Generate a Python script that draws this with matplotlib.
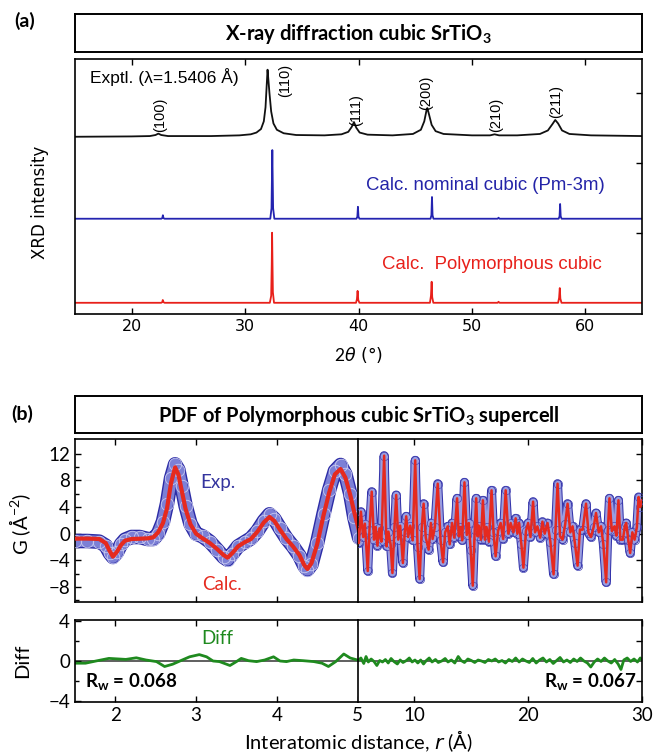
import matplotlib
matplotlib.use('Agg')
import matplotlib.pyplot as plt
import matplotlib.patheffects as pe
from matplotlib.ticker import FixedLocator

plt.rcParams['font.family'] = ['Lato', 'DejaVu Sans']
plt.rcParams['mathtext.fontset'] = 'custom'
plt.rcParams['mathtext.rm'] = 'Lato'
plt.rcParams['mathtext.bf'] = 'Lato:bold'
plt.rcParams['mathtext.it'] = 'DejaVu Sans:italic'

# ---------------- (a) XRD data ----------------
# experimental pattern, intensity above its own baseline
exp_tth = [15.0, 20.0, 21.6, 22.1, 22.35, 22.6, 23.2, 27.0, 29.5, 30.5, 31.0, 31.4,
           31.65, 31.8, 31.9, 31.98, 32.06, 32.15, 32.3, 32.5, 32.8, 33.4, 34.5,
           37.0, 38.5, 39.1, 39.4, 39.6, 39.8, 40.1, 40.8, 43.0, 44.8, 45.5, 45.8,
           46.0, 46.07, 46.2, 46.45, 46.8, 47.5, 50.0, 51.6, 52.0, 52.4, 54.0,
           56.0, 56.7, 57.1, 57.35, 57.6, 57.95, 58.6, 60.5, 65.0]
exp_int = [0.00, 0.005, 0.01, 0.025, 0.045, 0.025, 0.01, 0.01, 0.02, 0.035, 0.06, 0.11,
           0.22, 0.42, 0.72, 0.957, 0.80, 0.62, 0.36, 0.19, 0.10, 0.05, 0.025,
           0.02, 0.035, 0.07, 0.14, 0.21, 0.13, 0.06, 0.03, 0.02, 0.04, 0.10, 0.22,
           0.38, 0.41, 0.33, 0.17, 0.08, 0.04, 0.02, 0.02, 0.035, 0.02, 0.02,
           0.04, 0.09, 0.18, 0.24, 0.19, 0.09, 0.04, 0.02, 0.01]

nom_tth = [15.0, 22.62, 22.7, 22.75, 22.8, 22.88, 32.22, 32.33, 32.4, 32.47, 32.58,
           39.82, 39.9, 39.95, 40.0, 40.08, 46.35, 46.43, 46.48, 46.53, 46.61,
           52.27, 52.35, 52.43, 57.65, 57.73, 57.78, 57.83, 57.91, 65.0]
nom_int = [0, 0, 0.012, 0.05, 0.012, 0, 0, 0.15, 0.98, 0.15, 0,
           0, 0.03, 0.17, 0.03, 0, 0, 0.05, 0.31, 0.05, 0,
           0, 0.015, 0, 0, 0.035, 0.21, 0.035, 0, 0]

poly_tth = [15.0, 22.6, 22.7, 22.74, 22.8, 22.9, 32.18, 32.3, 32.35, 32.38, 32.42, 32.45,
            32.55, 39.78, 39.86, 39.92, 39.98, 40.08, 46.3, 46.39, 46.45, 46.5, 46.6,
            52.27, 52.35, 52.43, 57.6, 57.69, 57.75, 57.8, 57.9, 65.0]
poly_int = [0, 0, 0.01, 0.04, 0.01, 0, 0, 0.1, 0.55, 1.0, 0.5, 0.15,
            0, 0, 0.05, 0.17, 0.04, 0, 0, 0.1, 0.30, 0.08, 0,
            0, 0.015, 0, 0, 0.07, 0.21, 0.06, 0, 0]

hkl_labels = ['(100)', '(110)', '(111)', '(200)', '(210)', '(211)']
hkl_x = [22.5, 33.5, 39.8, 46.0, 52.1, 57.4]
hkl_y = [2.68, 3.17, 2.75, 3.00, 2.68, 2.88]

# ---------------- (b) PDF data ----------------
r_left = [1.50, 1.65, 1.80, 1.88, 1.93, 1.97, 2.02, 2.07, 2.12, 2.20, 2.30, 2.40,
          2.47, 2.53, 2.59, 2.64, 2.69, 2.74, 2.78, 2.82, 2.87, 2.93, 3.00, 3.08,
          3.17, 3.26, 3.34, 3.39, 3.45, 3.52, 3.60, 3.68, 3.76, 3.84, 3.91, 3.97,
          4.04, 4.12, 4.20, 4.28, 4.34, 4.38, 4.43, 4.50, 4.58, 4.65, 4.72, 4.79,
          4.85, 4.91, 4.96, 5.02]
g_calc_left = [-0.74, -0.74, -0.80, -1.40, -2.60, -3.45, -2.70, -1.70, -1.05, -0.80,
               -0.76, -0.70, -0.55, 0.20, 1.60, 3.80, 7.60, 9.95, 8.90, 6.60, 3.70,
               1.40, 0.00, -0.70, -1.40, -2.30, -3.20, -3.60, -2.90, -1.90, -1.30,
               -0.80, 0.30, 1.70, 2.50, 1.90, 0.60, -0.80, -1.90, -3.20, -4.70,
               -5.30, -4.40, -1.60, 2.80, 6.20, 8.90, 9.70, 8.40, 5.80, 3.20, 0.40]
g_exp_left = [-1.1, -1.1, -1.2, -1.8, -2.9, -3.5, -2.8, -1.6, -0.9, -0.5,
              -0.5, -0.8, -0.8, 0.0, 1.8, 4.5, 8.3, 10.4, 9.6, 7.2, 4.2,
              1.5, 0.0, -0.4, -1.2, -2.4, -3.5, -3.9, -3.0, -1.9, -1.3,
              -0.7, 0.4, 1.9, 2.9, 2.2, 0.8, -0.7, -1.9, -3.3, -4.8,
              -5.4, -4.6, -1.4, 3.0, 6.6, 9.4, 10.3, 8.9, 6.0, 2.5, -0.6]

r_right = [5.0, 5.12, 5.3, 5.5, 5.65, 5.9, 6.05, 6.25, 6.45, 6.6, 6.75, 6.93, 7.1,
           7.34, 7.55, 7.72, 7.9, 8.07, 8.25, 8.4, 8.58, 8.75, 8.99, 9.15, 9.28,
           9.45, 9.63, 9.85, 10.07, 10.28, 10.46, 10.65, 10.81, 11.0, 11.25, 11.45,
           11.6, 11.8, 12.05, 12.3, 12.52, 12.7, 12.93, 13.1, 13.31, 13.5, 13.75,
           13.9, 14.05, 14.2, 14.4, 14.6, 14.78, 14.95, 15.13, 15.3, 15.43, 15.55,
           15.66, 15.85, 16.02, 16.2, 16.34, 16.55, 16.78, 16.95, 17.14, 17.35,
           17.58, 17.8, 18.02, 18.25, 18.46, 18.7, 18.9, 19.05, 19.2, 19.4, 19.58,
           19.8, 19.99, 20.2, 20.43, 20.6, 20.81, 21.05, 21.25, 21.45, 21.7, 21.95,
           22.23, 22.4, 22.58, 22.8, 23.02, 23.25, 23.46, 23.7, 23.9, 24.1, 24.34,
           24.55, 24.79, 25.08, 25.3, 25.52, 25.75, 25.96, 26.2, 26.4, 26.6, 26.85,
           27.0, 27.14, 27.35, 27.58, 27.75, 27.93, 28.1, 28.32, 28.5, 28.61, 28.8,
           28.96, 29.15, 29.35, 29.55, 29.7, 29.85, 30.0]
g_right = [0.6, -1.4, 3.3, -0.5, 1.5, -5.6, 0.5, 6.3, -0.9, 1.0, -1.8, 0.8, -1.2,
           11.7, -1.9, 0.3, -1.5, -5.9, 1.0, 5.8, -0.9, 1.2, -4.4, 0.2, 2.6,
           -0.5, 1.2, -1.0, 11.0, -2.0, -6.8, 1.0, 4.5, -0.6, -2.4, 1.6,
           -0.8, 1.0, 7.5, -1.0, -4.3, 0.2, 1.1, -1.6, 1.6, -0.6, 5.3,
           -0.4, 1.0, -1.0, 7.7, -0.2, 1.6, -2.5, -7.8, 0.5, 5.3, -0.4,
           1.2, -0.9, 5.0, -0.9, 1.0, -1.2, 6.5, 0.2, -3.4, 0.4,
           1.6, -0.8, 6.5, 0.0, 1.6, 0.2, 2.3, 0.0, 1.6, -1.6, -5.1,
           0.4, 1.6, -0.5, 4.8, 0.2, 1.1, -0.6, 1.8, 0.0, 1.6, -1.2,
           -6.1, 0.5, 7.5, -0.4, -0.9, 1.4, 4.5, 0.2, 1.1, -1.4, -4.8,
           0.6, 0.6, 4.5, 0.1, -0.5, 1.0, 3.1, 0.2, 1.1, -1.5, -7.3,
           0.5, 5.3, 0.4, 1.1, -0.3, 5.0, -0.9, -0.9, 1.2, 1.6, -1.0,
           -2.9, 0.2, -0.9, 1.0, 5.5, 4.0, 5.0]

r_diff_left = [1.51, 1.63, 1.76, 1.92, 2.13, 2.26, 2.38, 2.51, 2.61, 2.71, 2.80, 2.92,
               3.04, 3.13, 3.21, 3.29, 3.42, 3.50, 3.56, 3.65, 3.75, 3.85, 3.96, 4.04,
               4.12, 4.21, 4.33, 4.46, 4.56, 4.64, 4.73, 4.83, 4.91, 5.0]
d_left = [-0.22, -0.22, 0.0, 0.26, 0.16, 0.32, 0.1, -0.06, -0.55, -0.32, 0.0, 0.42,
          0.64, 0.42, 0.0, -0.06, -0.45, -0.06, 0.26, 0.03, -0.06, 0.1, 0.42, 0.0,
          -0.06, 0.1, 0.03, -0.06, -0.22, -0.55, -0.06, 0.7, 0.3, 0.1]

r_diff_right = [5.0, 5.3, 5.55, 5.75, 5.95, 6.2, 6.45, 6.7, 6.95, 7.2, 7.45, 7.7, 7.95,
                8.2, 8.5, 8.75, 9.0, 9.3, 9.55, 9.8, 10.05, 10.3, 10.55, 10.8, 11.05,
                11.3, 11.55, 11.85, 12.1, 12.4, 12.7, 12.95, 13.25, 13.55, 13.85, 14.1,
                14.4, 14.7, 15.0, 15.3, 15.6, 15.9, 16.2, 16.5, 16.8, 17.1, 17.4, 17.7,
                18.0, 18.3, 18.6, 18.9, 19.2, 19.5, 19.8, 20.1, 20.4, 20.7, 21.0, 21.3,
                21.6, 21.9, 22.2, 22.5, 22.8, 23.1, 23.4, 23.7, 24.0, 24.3, 24.6, 24.9,
                25.2, 25.5, 25.8, 26.1, 26.4, 26.7, 27.0, 27.3, 27.6, 27.9, 28.15, 28.4,
                28.7, 29.0, 29.3, 29.6, 29.85, 30.0]
d_right = [0.0, 0.3, -0.25, 0.45, -0.1, 0.2, -0.05, -0.45, 0.05, -0.1, 0.15, -0.2, 0.25,
           -0.05, -0.3, 0.1, -0.15, 0.05, 0.3, -0.1, 0.1, -0.2, 0.1, -0.3, 0.05,
           0.3, -0.1, 0.15, -0.15, 0.0, 0.25, -0.1, 0.1, -0.2, 0.45, 0.05,
           -0.15, 0.2, 0.05, -0.15, 0.1, 0.0, -0.15, 0.15, 0.0, 0.2, -0.1, 0.05,
           -0.2, 0.15, -0.05, 0.3, -0.1, 0.2, 0.0, -0.15, 0.25, -0.2, 0.1, 0.3,
           -0.1, 0.15, -0.25, 0.05, 0.35, -0.1, 0.1, -0.15, 0.2, -0.05, 0.3, 0.0,
           -0.2, -0.6, -0.1, 0.2, -0.05, 0.3, 0.0, -0.2, 0.15, -0.3, -0.85, 0.1,
           0.3, -0.05, 0.2, -0.1, 0.3, 0.1]

# offsets of the stacked XRD traces
base_exp, base_nom, base_poly = 2.37, 1.2, 0.0

RED = '#e52a1f'
GREEN = '#1f8a1f'
FW = 653.0
FH = 755.0


def frac(x0, y0, x1, y1):
    # pixel box -> figure fraction rect
    return [x0 / FW, 1 - y1 / FH, (x1 - x0) / FW, (y1 - y0) / FH]


def title_box(rect, text):
    ax = fig.add_axes(rect)
    ax.set_xticks([])
    ax.set_yticks([])
    for s in ax.spines.values():
        s.set_linewidth(1.4)
    ax.text(0.5, 0.47, text, ha='center', va='center', fontsize=14.5,
            fontweight='bold', transform=ax.transAxes)


def style_ticks(ax, size=12):
    ax.tick_params(which='both', direction='in', top=True, width=1.0)
    ax.tick_params(which='major', length=4.5, labelsize=size)
    ax.tick_params(which='minor', length=3)
    for s in ax.spines.values():
        s.set_linewidth(1.2)


fig = plt.figure(figsize=(6.53, 7.55), dpi=100)

# ================= (a) =================
title_box(frac(75, 14, 642, 52), 'X-ray diffraction cubic SrTiO$_\\mathbf{3}$')
fig.text(25 / FW, 1 - 21 / FH, '(a)', fontsize=14, fontweight='bold',
         ha='center', va='center')

axa = fig.add_axes(frac(75, 59, 642, 314))
axa.plot(exp_tth, [v + base_exp for v in exp_int], color='#111111', lw=1.3)
axa.plot(nom_tth, [v + base_nom for v in nom_int], color='#2424b0', lw=1.3)
axa.plot(poly_tth, [v + base_poly for v in poly_int], color='#e8201a', lw=1.3)
axa.set_xlim(15, 65)
axa.set_ylim(-0.16, 3.48)
axa.set_xticks([20, 30, 40, 50, 60])
axa.set_yticks([1, 2, 3])
style_ticks(axa, size=11.5)
axa.tick_params(axis='y', left=False, right=True, labelleft=False)
for lab in axa.get_xticklabels():
    lab.set_family('DejaVu Sans')
axa.set_xlabel('$\\mathit{2\\theta}$ (°)', fontsize=12.5, family='DejaVu Sans',
               labelpad=8)
fig.text(40 / FW, 1 - 202 / FH, 'XRD intensity', rotation=90, fontsize=12,
         family='DejaVu Sans', ha='center', va='center')

for lab, x, y in zip(hkl_labels, hkl_x, hkl_y):
    axa.text(x, y, lab, rotation=90, ha='center', va='center', fontsize=10.5,
             family='Liberation Sans')
axa.text(16.3, 3.225, 'Exptl. (λ=1.5406 Å)', ha='left', va='center',
         fontsize=12.5, family='Liberation Sans')
axa.text(51.2, 1.68, 'Calc. nominal cubic (Pm-3m)', ha='center', va='center',
         fontsize=13.4, family='Liberation Sans', color='#2424a8')
axa.text(51.8, 0.54, 'Calc.  Polymorphous cubic', ha='center', va='center',
         fontsize=13.4, family='Liberation Sans', color='#e8201a')

# ================= (b) =================
title_box(frac(75, 396, 642, 433),
          'PDF of Polymorphous cubic SrTiO$_\\mathbf{3}$ supercell')
fig.text(22 / FW, 1 - 414 / FH, '(b)', fontsize=14, fontweight='bold',
         ha='center', va='center')

split = 357.5
gL = fig.add_axes(frac(75, 439, split, 602))
gR = fig.add_axes(frac(split, 439, 642, 602))
dL = fig.add_axes(frac(75, 620, split, 702))
dR = fig.add_axes(frac(split, 620, 642, 702))

band = [pe.Stroke(linewidth=10.5, foreground='#2c2ca6'), pe.Normal()]
gL.plot(r_left, g_exp_left, color='#7c80d6', lw=8.5, solid_capstyle='round',
        solid_joinstyle='round', path_effects=band, zorder=2)
gL.plot(r_left, g_exp_left, 'o', ms=9, mfc='none', mec='#c8caf0', mew=0.6,
        zorder=3)
gL.plot(r_left, g_calc_left, color=RED, lw=3.0, zorder=4)

band_r = [pe.Stroke(linewidth=6.5, foreground='#3434aa'), pe.Normal()]
gR.plot(r_right, g_right, color='#9a9ee0', lw=5, solid_joinstyle='round',
        solid_capstyle='round', path_effects=band_r, zorder=2)
gR.plot(r_right, g_right, 'o', ms=6, mfc='none', mec='#4646b6', mew=0.5,
        zorder=3)
gR.plot(r_right, g_right, color=RED, lw=1.8, zorder=4)

for ax in (dL, dR):
    ax.axhline(0, color='#444444', lw=1.2, zorder=1)
dL.plot(r_diff_left, d_left, color=GREEN, lw=2.0, zorder=2)
dR.plot(r_diff_right, d_right, color=GREEN, lw=2.0, zorder=2)

for ax in (gL, dL):
    ax.set_xlim(1.5, 5.0)
    ax.set_xticks([2, 3, 4, 5])
    ax.spines['right'].set_visible(False)
for ax in (gR, dR):
    ax.set_xlim(5.0, 30.0)
    ax.set_xticks([10, 20, 30])
for ax in (gL, gR):
    ax.set_ylim(-10.25, 14.2)
for ax in (dL, dR):
    ax.set_ylim(-4.1, 4.1)

for ax in (gL, gR, dL, dR):
    style_ticks(ax, size=13.5)

gL.set_yticks([-8, -4, 0, 4, 8, 12])
gL.yaxis.set_minor_locator(FixedLocator([-10, -6, -2, 2, 6, 10]))
gL.tick_params(axis='x', labelbottom=False)
gR.set_yticks([-8, -4, 0, 4, 8, 12])
gR.tick_params(axis='x', labelbottom=False)
gR.tick_params(axis='y', left=False, right=True, labelleft=False)

dL.set_yticks([-4, 0, 4])
dL.yaxis.set_minor_locator(FixedLocator([-2, 2]))
dR.set_yticks([-2, 2])
dR.tick_params(axis='y', left=False, right=True, labelleft=False)

gL.text(3.27, 7.7, 'Exp.', color='#34349e', fontsize=13.5, ha='center', va='center')
gL.text(3.32, -7.6, 'Calc.', color=RED, fontsize=13.5, ha='center', va='center')
dL.text(3.26, 2.2, 'Diff', color=GREEN, fontsize=13.5, ha='center', va='center')
dL.text(1.63, -2.1, 'R$_\\mathbf{w}$ = 0.068', fontsize=13.5, fontweight='bold',
        ha='left', va='center')
dR.text(29.5, -2.1, 'R$_\\mathbf{w}$ = 0.067', fontsize=13.5, fontweight='bold',
        ha='right', va='center')

fig.text(20 / FW, 1 - 524 / FH, 'G (Å$^{-2}$)', rotation=90, fontsize=14.5,
         ha='center', va='center')
fig.text(23 / FW, 1 - 661 / FH, 'Diff', rotation=90, fontsize=14.5,
         ha='center', va='center')
fig.text(358 / FW, 1 - 741 / FH, 'Interatomic distance, $\\mathit{r}$ (Å)',
         fontsize=14.5, ha='center', va='center')

fig.savefig('out.png', dpi=100)
